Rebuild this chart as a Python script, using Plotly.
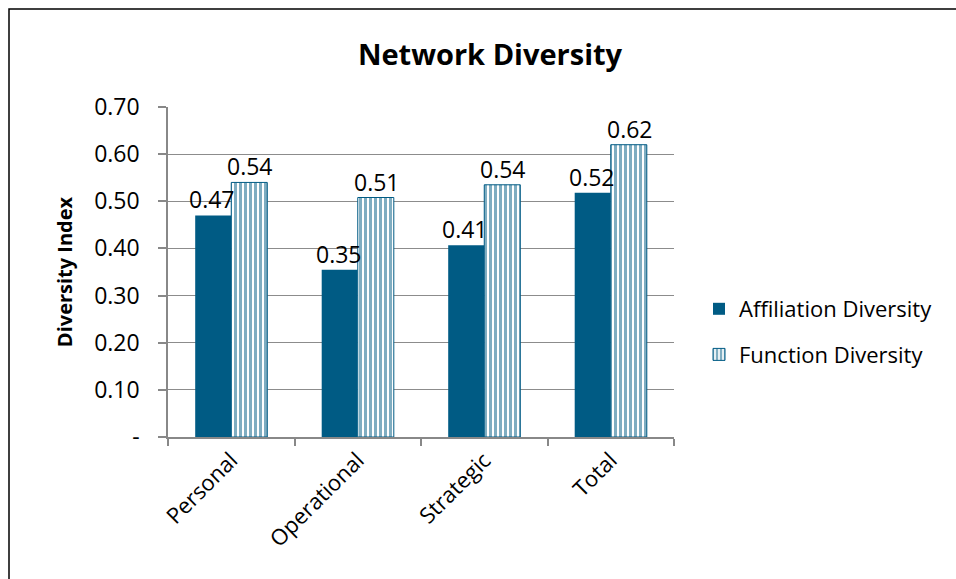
import plotly.graph_objects as go

categories = ["Personal", "Operational", "Strategic", "Total"]
affiliation = [0.47, 0.355, 0.407, 0.518]
function = [0.54, 0.508, 0.535, 0.62]
y_ticks = [0, 0.1, 0.2, 0.3, 0.4, 0.5, 0.6, 0.7]
y_ticktext = ["-", "0.10", "0.20", "0.30", "0.40", "0.50", "0.60", "0.70"]

teal = "#005B84"
font = "Open Sans, Noto Sans, sans-serif"

fig = go.Figure()
fig.add_trace(go.Bar(
    x=categories, y=affiliation, name="Affiliation Diversity", legendgroup="a",
    marker=dict(color=teal, line=dict(width=0)),
))
fig.add_trace(go.Bar(
    x=categories, y=function, name="Function Diversity", legendgroup="b",
    marker=dict(color="white", line=dict(color=teal, width=1),
                pattern=dict(shape="|", fgcolor=teal, bgcolor="white", size=5, solidity=0.6)),
))

annotations = []
for series, shift in ((affiliation, -19), (function, 19)):
    for c, v in zip(categories, series):
        annotations.append(dict(x=c, y=v, xref="x", yref="y", text=f"{v:.2f}",
                                showarrow=False, xanchor="center", yanchor="bottom",
                                xshift=shift, yshift=-2,
                                font=dict(size=23, color="#000", family=font)))

ml, mr, mt, mb = 168, 282, 107, 142
pw, ph = 956 - ml - mr, 579 - mt - mb

fig.update_layout(
    width=956, height=579,
    margin=dict(l=ml, r=mr, t=mt, b=mb, autoexpand=False),
    paper_bgcolor="white", plot_bgcolor="white",
    font=dict(family=font, size=22, color="#000"),
    barmode="group", bargap=0.43, bargroupgap=0,
    title=dict(text="<b>Network Diversity</b>", x=490/956, xanchor="center",
               y=1 - 55/579, yanchor="middle", font=dict(size=29)),
    showlegend=True,
    legend=dict(x=(699 - ml)/pw, y=(437 - 288)/ph, xanchor="left", yanchor="top",
                font=dict(size=22), traceorder="grouped", tracegroupgap=14, itemwidth=30),
    xaxis=dict(showline=True, linecolor="#888", linewidth=1.5, ticks="outside",
               tickson="boundaries", ticklen=7, tickcolor="#888", tickwidth=1.5,
               tickangle=-45, tickfont=dict(size=22)),
    yaxis=dict(range=[0, 0.7], tickvals=y_ticks, ticktext=y_ticktext,
               showgrid=True, gridcolor="#8c8c8c", gridwidth=1.2,
               showline=True, linecolor="#888", linewidth=1.5,
               ticks="outside", ticklen=8, tickcolor="#888", tickwidth=1.5,
               ticklabelstandoff=14,
               tickfont=dict(size=23), zeroline=False,
               title=dict(text="<b>Diversity Index</b>", font=dict(size=20), standoff=16)),
    annotations=annotations,
    shapes=[dict(type="rect", xref="paper", yref="paper",
                 x0=(9 - ml)/pw, x1=(980 - ml)/pw,
                 y0=(437 - 600)/ph, y1=(437 - 9)/ph,
                 line=dict(color="black", width=1.5), fillcolor="rgba(0,0,0,0)", layer="above")],
)

fig.write_html("out.html")
